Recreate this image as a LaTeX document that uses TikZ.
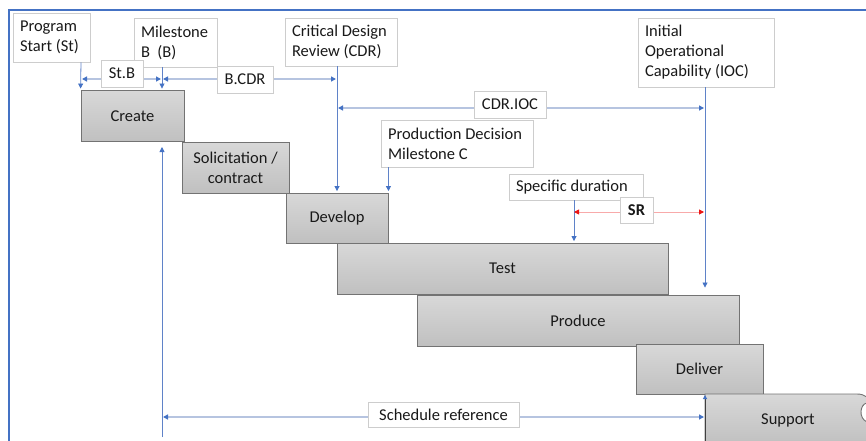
\documentclass[tikz,border=0pt]{standalone}
\usepackage{fontspec}
\setmainfont{Carlito}
\usetikzlibrary{arrows.meta,calc}

\definecolor{frameblue}{RGB}{68,114,196}
\definecolor{tipblue}{RGB}{68,114,196}
\definecolor{msline}{RGB}{95,130,200}
\definecolor{dimline}{RGB}{182,196,224}
\definecolor{srred}{RGB}{235,20,20}
\definecolor{srline}{RGB}{248,170,170}
\definecolor{barfill1}{RGB}{216,216,216}
\definecolor{barfill2}{RGB}{192,192,192}
\definecolor{bardraw}{RGB}{115,115,115}
\definecolor{notedraw}{RGB}{205,205,205}
\definecolor{ink}{RGB}{25,25,25}

\newcommand\lblfont{\fontsize{16.5}{20}\selectfont}

\tikzset{
  phase/.style={draw=bardraw, top color=barfill1, bottom color=barfill2,
    line width=0.9pt, inner sep=0pt, align=center, font=\lblfont, text=ink},
  note/.style={draw=notedraw, fill=white, line width=0.7pt, inner ysep=0pt,
    inner xsep=7pt, align=flush left, font=\lblfont, text=ink},
  tag/.style={draw=notedraw, fill=white, line width=0.7pt, inner sep=0pt,
    align=center, font=\lblfont, text=ink},
  msarrow/.style={draw=msline, line width=0.8pt, -{Triangle[length=5pt,width=5pt,color=tipblue]}},
  dimarrow/.style={draw=dimline, line width=1.4pt,
    {Triangle[length=5pt,width=5pt,color=tipblue]}-{Triangle[length=5pt,width=5pt,color=tipblue]}},
  srarrow/.style={draw=srline, line width=0.9pt,
    {Triangle[length=5pt,width=5pt,color=srred]}-{Triangle[length=5pt,width=5pt,color=srred]}},
}

\begin{document}
\begin{tikzpicture}[x=1pt,y=-1pt]
\useasboundingbox (0,0) rectangle (866,441);

% outer frame (top and left edges)
\draw[frameblue, line width=2pt] (9,441) -- (9,10) -- (866,10);

% ---- phase bars ----
\node[phase, minimum width=103pt, minimum height=51pt] (create)  at (132.5,116) {Create};
\node[phase, minimum width=107pt, minimum height=51pt] (solicit) at (235.5,167.5) {Solicitation /\\contract};
\node[phase, minimum width=102pt, minimum height=50pt] (develop) at (337,218) {Develop};
\node[phase, minimum width=331pt, minimum height=51pt] (test)    at (502.5,268.5) {Test};
\node[phase, minimum width=322pt, minimum height=51pt] (produce) at (578,320.5) {Produce};
\node[phase, minimum width=127pt, minimum height=50pt] (deliver) at (699.5,369) {Deliver};

% support bar, running off the right edge
\path[draw=bardraw, top color=barfill1, bottom color=barfill2, line width=0.9pt]
  (705,445) -- (705,394) -- (857,394)
  .. controls (861,394) and (864,395) .. (867,397)
  -- (867,403) .. controls (860,404) and (858,418) .. (867,422)
  -- (867,445) -- cycle;
\node[font=\lblfont, text=ink] (support) at (788,420) {Support};

% ---- milestone positions ----
\coordinate (St)   at (81,79);
\coordinate (Bm)   at (162,79);
\coordinate (CDRa) at (337,79);
\coordinate (CDRb) at (337,108);
\coordinate (IOCb) at (705,108);
\coordinate (SDt)  at (574,200);
\coordinate (SRa)  at (574,212);
\coordinate (SRb)  at (704,212);
\coordinate (SchT) at (162,147);
\coordinate (SchB) at (162,437);
\coordinate (SchL) at (162,417);
\coordinate (SchR) at (704,417);
\coordinate (SupB) at (705,441);
\coordinate (SupT) at (705,395);

% ---- milestone notes ----
\node[note, text width=63pt,  minimum height=49pt] (ps)  at (51.5,37.5) {Program\\Start (St)};
\node[note, text width=69pt,  minimum height=49pt] (mb)  at (175.5,42.5) {Milestone\\B\ \ (B)};
\node[note, text width=98pt,  minimum height=48pt] (cdr) at (341,42) {Critical Design\\Review (CDR)};
\node[note, text width=122pt, minimum height=69pt] (ioc) at (706,52.5) {Initial\\Operational\\Capability (IOC)};
\node[note, text width=138pt, minimum height=47pt] (pdc) at (457,143.5) {Production Decision\\Milestone C};
\node[note, text width=120pt, minimum height=26pt] (sd)  at (576,187) {Specific duration};

% ---- milestone drops ----
\draw[msarrow, shorten >=1.5pt] (ps.south -| St) -- (create.north west);
\draw[msarrow, shorten >=1.5pt] (mb.south -| Bm) -- (Bm |- create.north);
\draw[msarrow, shorten >=1.5pt] (cdr.south -| develop.north) -- (develop.north);
\draw[msarrow, shorten >=1.5pt] (pdc.south -| develop.north east) -- (develop.north east);
\draw[msarrow, shorten >=7pt] (ioc.south -| IOCb) -- (IOCb |- produce.north);
\draw[msarrow, shorten >=1.5pt] (SDt) -- (SDt |- test.north);
\draw[msarrow] (SchB) -- (SchT);
\draw[draw=black!75, line width=1pt, -{Triangle[length=4pt,width=4pt,color=tipblue]}] (SupB) -- (SupT);

% ---- durations ----
\draw[dimarrow, shorten <=1pt, shorten >=1pt] (St) -- (Bm);
\draw[dimarrow, shorten <=1pt, shorten >=1pt] (Bm) -- (CDRa);
\draw[dimarrow, shorten <=1pt, shorten >=1pt] (CDRb) -- (IOCb);
\draw[dimarrow, shorten <=1pt] (SchL) -- (SchR);
\draw[srarrow] (SRa) -- (SRb);

% ---- duration labels ----
\node[tag, minimum width=42pt,  minimum height=27pt] (stb)    at (122,73.5) {St.B};
\node[tag, minimum width=56pt,  minimum height=27pt] (bcdr)   at (245,79.5) {B.CDR};
\node[tag, minimum width=72pt,  minimum height=27pt] (cdrioc) at (510,104.5) {CDR.IOC};
\node[tag, minimum width=33pt,  minimum height=26pt, font=\lblfont\bfseries] (sr) at (636.5,210) {SR};
\node[tag, minimum width=151pt, minimum height=25pt] (sched)  at (443.5,414.5) {Schedule reference};
\end{tikzpicture}
\end{document}
